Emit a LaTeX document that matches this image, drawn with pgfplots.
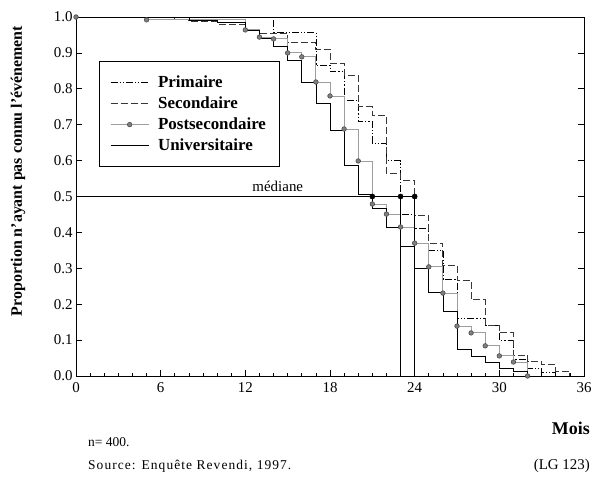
\documentclass[border=0pt]{standalone}
\usepackage{pgfplots}
\pgfplotsset{compat=1.18}
\usepackage{fontspec}
\setmainfont{Liberation Serif}

\definecolor{secgray}{gray}{0.22}
\definecolor{postline}{gray}{0.62}
\definecolor{postmark}{gray}{0.50}
\definecolor{postedge}{gray}{0.30}

% Kaplan-Meier survival estimates by education level (month, proportion)
\pgfplotstableread{
m   s
0   1.000
14  0.958
17  0.866
18  0.848
19  0.769
20  0.708
21  0.649
22  0.600
23  0.450
24  0.410
25  0.350
26  0.270
27  0.160
29  0.142
30  0.100
31  0.045
32  0.022
33  0.010
34  0.000
}\primaire

\pgfplotstableread{
m   s
0   1.000
7   0.994
8   0.987
10  0.980
12  0.964
13  0.955
15  0.930
17  0.910
18  0.871
19  0.838
20  0.750
21  0.727
22  0.565
23  0.546
24  0.448
25  0.370
26  0.309
27  0.267
28  0.212
29  0.142
30  0.120
31  0.058
32  0.040
33  0.031
34  0.014
35  0.000
}\secondaire

\pgfplotstableread{
m   s
0   1.000
5   0.992
12  0.964
13  0.944
14  0.939
15  0.900
16  0.889
17  0.819
18  0.780
19  0.688
20  0.599
21  0.479
22  0.451
23  0.415
24  0.370
25  0.304
26  0.231
27  0.139
28  0.120
29  0.084
30  0.056
31  0.039
32  0.000
}\postsec

\pgfplotstableread{
m   s
0   1.000
8   0.992
10  0.985
12  0.964
13  0.940
14  0.917
15  0.880
16  0.817
17  0.760
18  0.683
19  0.588
20  0.505
21  0.468
22  0.415
23  0.360
24  0.300
25  0.232
26  0.179
27  0.075
28  0.056
29  0.039
30  0.022
31  0.012
32  0.000
}\univ

\begin{document}
\begin{tikzpicture}
\begin{axis}[
  at={(0bp,0bp)}, anchor=south west,
  width=508bp, height=359bp, scale only axis,
  xmin=0, xmax=36, ymin=0, ymax=1,
  clip=false,
  xtick={0,6,12,18,24,30,36},
  minor x tick num=5,
  ytick={0,0.1,0.2,0.3,0.4,0.5,0.6,0.7,0.8,0.9,1.0},
  yticklabel style={/pgf/number format/.cd, fixed, fixed zerofill, precision=1},
  /pgf/number format/assume math mode=true,
  xtick pos=bottom, ytick pos=both,
  tick align=inside,
  major tick length=6bp, minor tick length=3bp,
  tick style={black, line width=0.6bp},
  tick label style={font=\fontsize{15}{17}\selectfont},
  xticklabel style={yshift=-3bp},
  axis line style={line width=0.7bp},
  legend cell align=left,
  legend style={
    at={(rel axis cs:0.045,0.877)}, anchor=north west,
    draw=black, line width=0.7bp,
    font=\bfseries\fontsize{17}{19}\selectfont,
    inner xsep=11bp, inner ysep=12bp,
    row sep=4bp,
    /tikz/every odd column/.append style={column sep=7bp},
  },
  legend image code/.code={%
    \draw[mark repeat=2, mark phase=2, #1]
      plot coordinates {(0bp,0bp) (19bp,0bp) (38bp,0bp)};},
]

\addplot[const plot, black, line width=0.7bp,
  dash pattern=on 7bp off 2bp on 1.2bp off 2bp on 1.2bp off 2bp]
  table[x=m, y=s] {\primaire};
\addlegendentry{Primaire}

\addplot[const plot, secgray, line width=0.85bp,
  dash pattern=on 7bp off 3bp]
  table[x=m, y=s] {\secondaire};
\addlegendentry{Secondaire}

\addplot[const plot, postline, line width=0.9bp,
  mark=*, mark size=2.3bp,
  mark options={fill=postmark, draw=postedge, line width=0.6bp, solid}]
  table[x=m, y=s] {\postsec};
\addlegendentry{Postsecondaire}

\addplot[const plot, black, line width=0.7bp]
  table[x=m, y=s] {\univ};
\addlegendentry{Universitaire}

% median reference line and medians
\addplot[forget plot, black, line width=0.7bp] coordinates {(0,0.5) (24,0.5)};
\addplot[forget plot, black, line width=0.7bp] coordinates {(23,0.5) (23,0)};
\addplot[forget plot, black, line width=0.7bp] coordinates {(24,0.5) (24,0)};
\addplot[forget plot, only marks, black, mark=*, mark size=2.6bp]
  coordinates {(21,0.5) (23,0.5) (24,0.5)};

\node[anchor=base, font=\fontsize{15}{17}\selectfont]
  at (axis cs:14.3,0.515) {médiane};
\end{axis}

\node[rotate=90, font=\bfseries\fontsize{16}{18}\selectfont]
  at (-58bp,205bp) {Proportion n'ayant pas connu l'événement};
\node[anchor=east, inner sep=0pt, font=\bfseries\fontsize{18}{20}\selectfont]
  at (514bp,-52bp) {Mois};
\node[anchor=west, inner sep=0pt, font=\fontsize{13.5}{15}\selectfont]
  at (12bp,-66bp) {n= 400.};
\node[anchor=west, inner sep=0pt, font=\addfontfeature{LetterSpace=8}\fontsize{13.5}{15}\selectfont]
  at (12bp,-90bp) {Source: Enquête Revendi, 1997.};
\node[anchor=east, inner sep=0pt, font=\fontsize{15}{17}\selectfont]
  at (514bp,-90bp) {(LG 123)};

\pgfresetboundingbox
\useasboundingbox (-76bp,-101bp) rectangle (519bp,376bp);
\end{tikzpicture}
\end{document}
